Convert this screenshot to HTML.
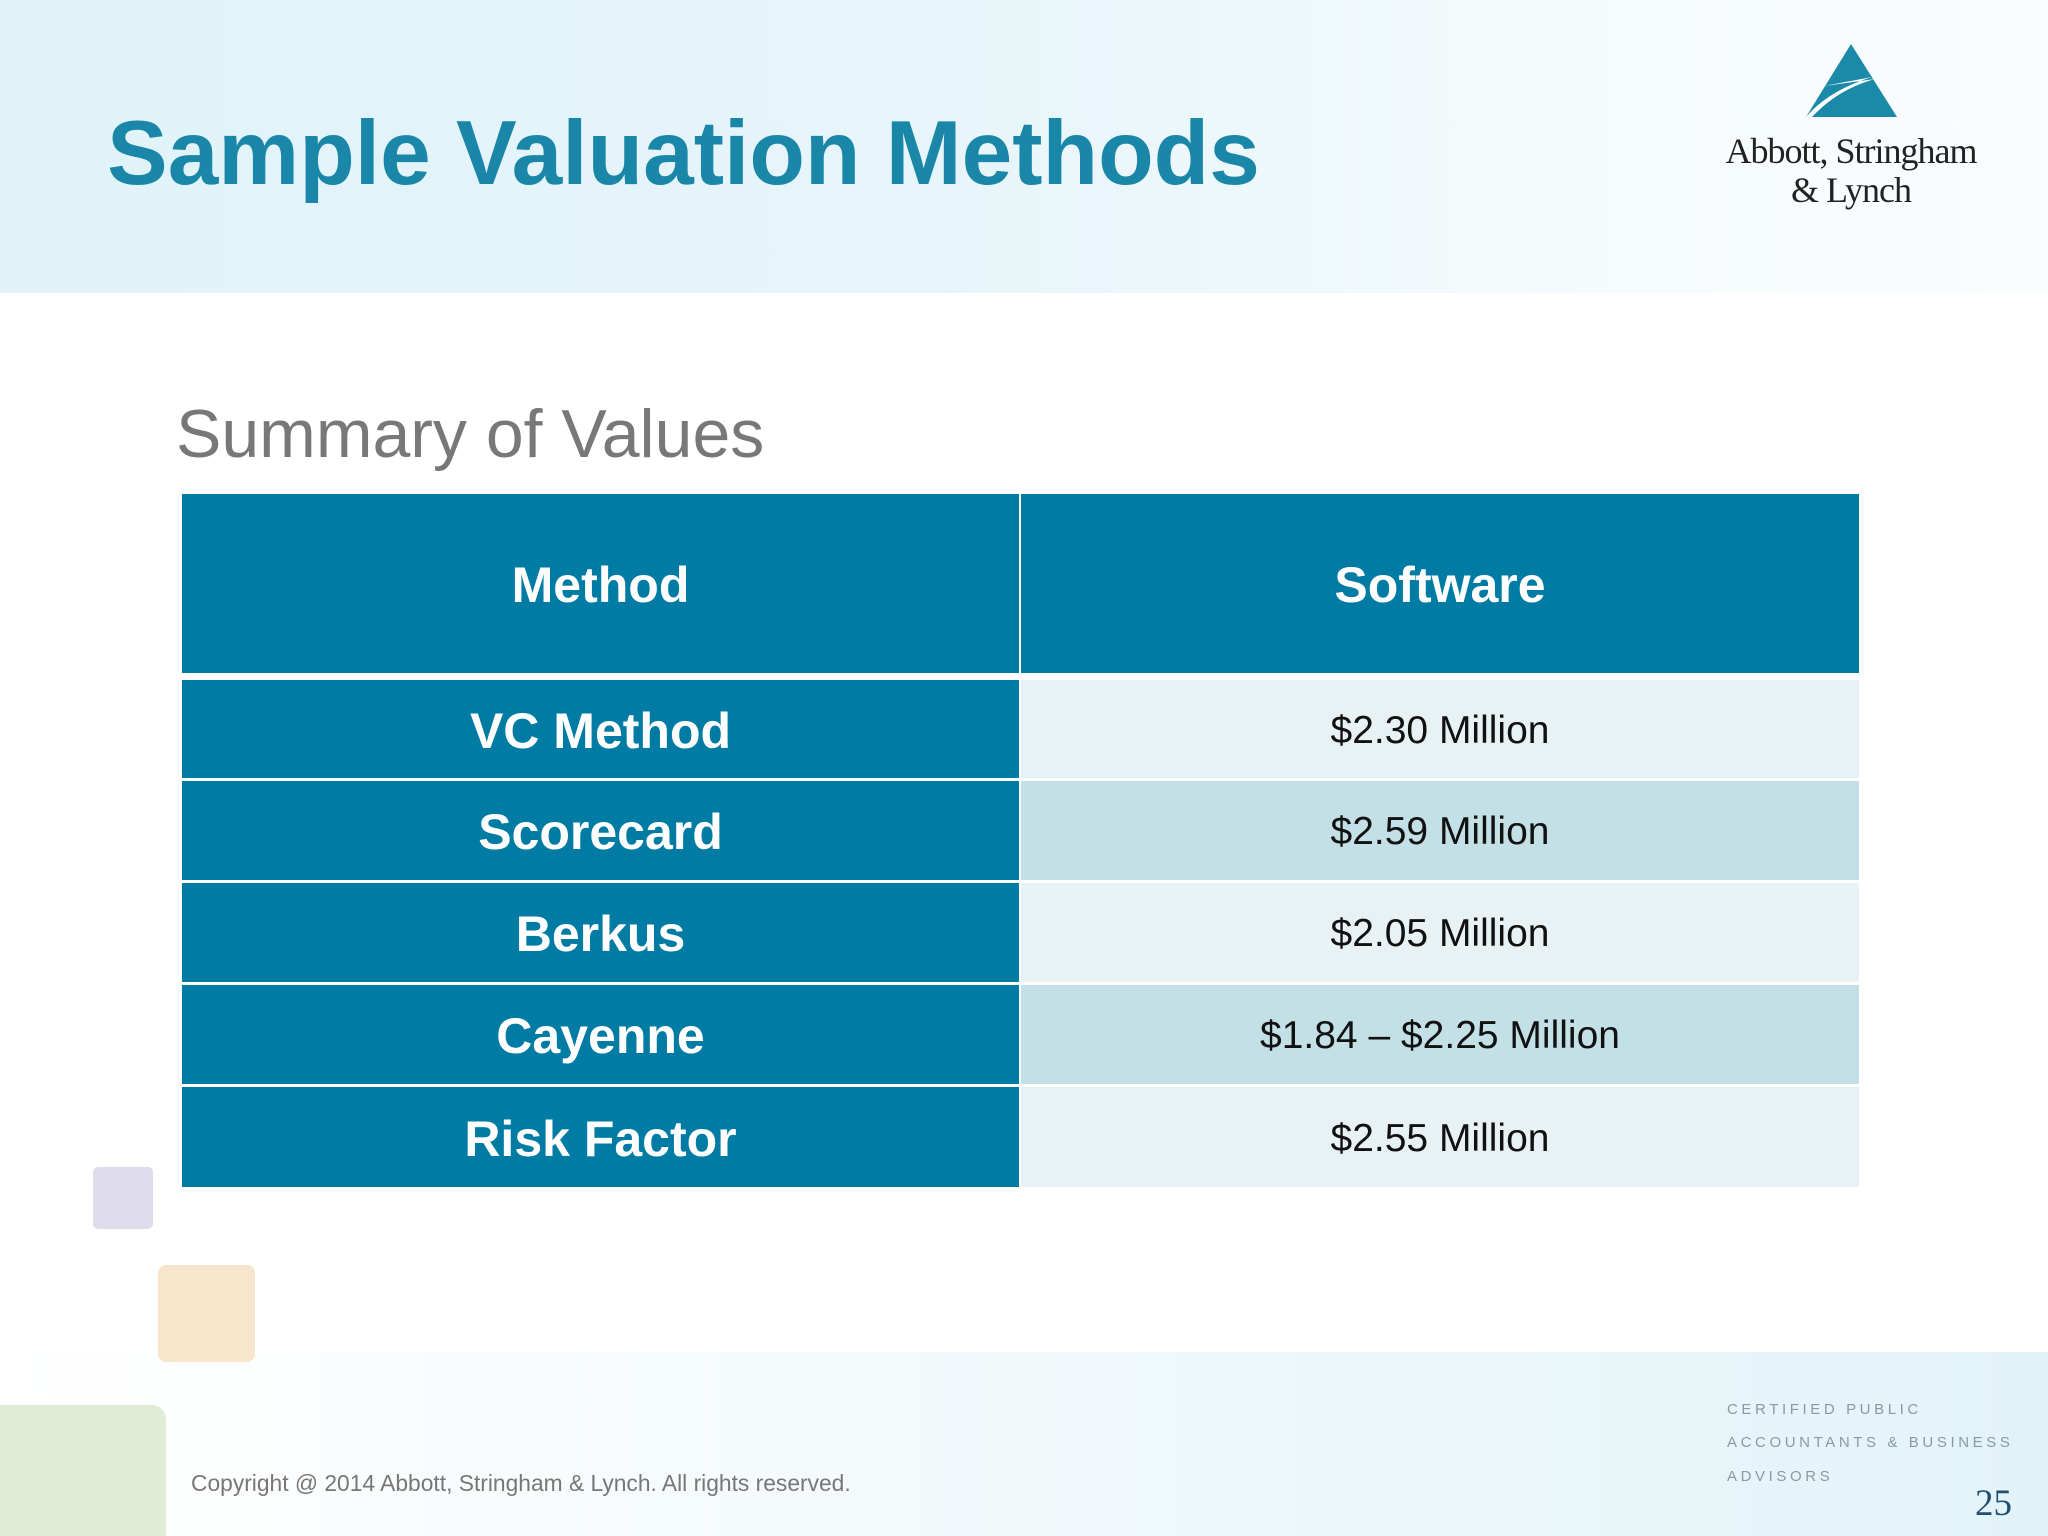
<!DOCTYPE html>
<html><head><meta charset="utf-8"><style>
body{margin:0;width:2048px;height:1536px;position:relative;overflow:hidden;background:#fff;font-family:"Liberation Sans",sans-serif}
div,span{position:absolute;box-sizing:border-box}
.hdr{left:0;top:0;width:2048px;height:293px;background:linear-gradient(90deg,#dff3f9 0%,#e6f5fa 45%,#f6fbfd 80%,#fafdfe 100%)}
.ftr{left:0;top:1352px;width:2048px;height:184px;background:linear-gradient(90deg,#ffffff 0%,#f4fafc 40%,#e2f3f8 100%)}
.cell{display:flex;align-items:center;justify-content:center;padding-top:3px}
.l{left:182px;width:837px;background:#007ba3;color:#fff;font-weight:bold;font-size:50px}
.r{left:1021px;width:838px;color:#111;font-size:39px}
.ft{left:1727px;font-size:15px;letter-spacing:3.6px;color:#8a9aa5}
</style></head><body>
<div class="hdr"></div>
<div class="ftr"></div>
<div style="left:107px;top:102px;font-size:91px;font-weight:bold;color:#1a86a8;white-space:nowrap">Sample Valuation Methods</div>
<svg style="position:absolute;left:0;top:0" width="2048" height="300">
<polygon points="1851,44 1806,117 1897,117" fill="#1a8aa8"/>
<path d="M1824,86 C1845,82 1862,79 1872,77 C1850,84 1825,95 1806,117 L1812,117 C1830,98 1850,86 1875,79 Z" fill="#fff"/>
</svg>
<div style="left:1700px;top:132px;width:302px;text-align:center;font-family:'Liberation Serif',serif;font-size:36px;line-height:39px;color:#222;letter-spacing:-1px">Abbott, Stringham<br>&amp; Lynch</div>
<div style="left:176px;top:395px;font-size:68px;color:#787878;white-space:nowrap">Summary of Values</div>
<div class="cell l" style="top:494px;height:179px">Method</div>
<div class="cell l" style="left:1021px;width:838px;top:494px;height:179px">Software</div>
<div class="cell l" style="top:680px;height:98px">VC Method</div>
<div class="cell r" style="top:680px;height:98px;background:#e8f2f5">$2.30 Million</div>
<div class="cell l" style="top:781px;height:99px">Scorecard</div>
<div class="cell r" style="top:781px;height:99px;background:#c3e0e7">$2.59 Million</div>
<div class="cell l" style="top:883px;height:99px">Berkus</div>
<div class="cell r" style="top:883px;height:99px;background:#e8f2f5">$2.05 Million</div>
<div class="cell l" style="top:985px;height:99px">Cayenne</div>
<div class="cell r" style="top:985px;height:99px;background:#c3e0e7">$1.84 – $2.25 Million</div>
<div class="cell l" style="top:1087px;height:100px">Risk Factor</div>
<div class="cell r" style="top:1087px;height:100px;background:#e8f2f5">$2.55 Million</div>
<div style="left:93px;top:1167px;width:60px;height:62px;background:#dedbea;border-radius:5px"></div>
<div style="left:158px;top:1265px;width:97px;height:97px;background:#f7e5cc;border-radius:8px"></div>
<div style="left:0;top:1405px;width:166px;height:131px;background:#e1ecd6;border-top-right-radius:14px"></div>
<div style="left:191px;top:1470px;font-size:22.8px;color:#777;white-space:nowrap">Copyright @ 2014 Abbott, Stringham &amp; Lynch. All rights reserved.</div>
<div class="ft" style="top:1401px">CERTIFIED PUBLIC</div>
<div class="ft" style="top:1434px">ACCOUNTANTS &amp; BUSINESS</div>
<div class="ft" style="top:1468px">ADVISORS</div>
<div style="left:1975px;top:1482px;font-family:'Liberation Serif',serif;font-size:37px;color:#1f4e6e">25</div>
</body></html>
